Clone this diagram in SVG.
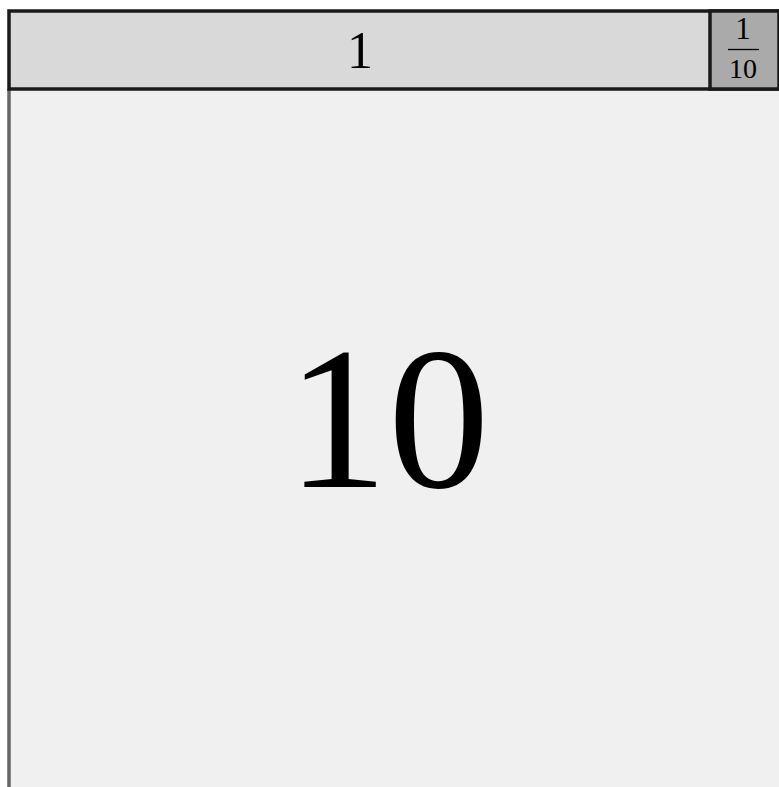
<svg xmlns="http://www.w3.org/2000/svg" width="779" height="787" viewBox="0 0 779 787">
<style>
.t{font-family:"Liberation Serif","DejaVu Serif",serif;fill:#000;text-anchor:middle}
.box{stroke:#1a1a1a;stroke-width:3.5}
</style>
<rect x="0" y="0" width="779" height="787" fill="#ffffff"/>
<g id="main">
<rect x="9" y="89" width="770" height="698" fill="#f0f0f0"/>
<line x1="9" y1="89" x2="9" y2="787" stroke="#666666" stroke-width="3.5"/>
<text class="t" x="388" y="487" font-size="203">10</text>
</g>
<g id="bar">
<rect class="box" x="9" y="11" width="770" height="78" fill="#d9d9d9"/>
<text class="t" x="360" y="68" font-size="52">1</text>
</g>
<g id="small">
<rect class="box" x="710" y="11" width="69" height="78" fill="#aaaaaa"/>
<text class="t" x="743" y="39" font-size="31">1</text>
<line x1="728" y1="49.5" x2="759" y2="49.5" stroke="#000" stroke-width="1.3"/>
<text class="t" x="743" y="78" font-size="28">10</text>
</g>
</svg>
